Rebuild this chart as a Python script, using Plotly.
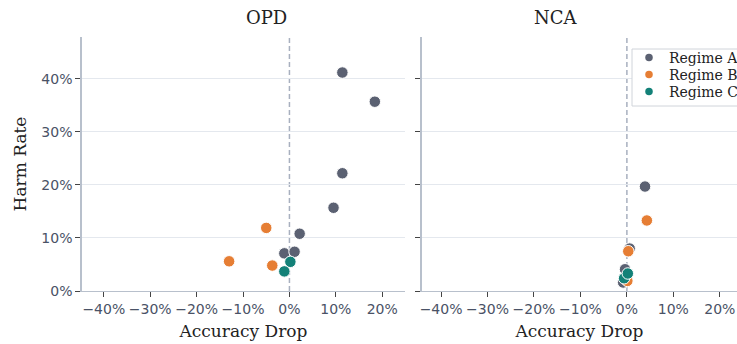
import plotly.graph_objects as go

# ---- data ----
regimes = ["Regime A", "Regime B", "Regime C"]
colors = ["#5b6172", "#e67e34", "#138178"]

opd_x = {
    "Regime A": [0.114, 0.184, 0.114, 0.095, 0.022, -0.011, 0.011],
    "Regime B": [-0.050, -0.130, -0.037],
    "Regime C": [0.002, -0.011],
}
opd_y = {
    "Regime A": [0.412, 0.357, 0.222, 0.157, 0.108, 0.071, 0.074],
    "Regime B": [0.119, 0.056, 0.048],
    "Regime C": [0.055, 0.037],
}
nca_x = {
    "Regime A": [0.039, 0.006, -0.004, -0.008],
    "Regime B": [0.043, 0.003, 0.001],
    "Regime C": [-0.006, 0.002],
}
nca_y = {
    "Regime A": [0.197, 0.080, 0.041, 0.016],
    "Regime B": [0.133, 0.075, 0.019],
    "Regime C": [0.024, 0.033],
}
y_ticks = [0, 0.1, 0.2, 0.3, 0.4]
y_tick_text = ["0%", "10%", "20%", "30%", "40%"]
x_ticks = [-0.4, -0.3, -0.2, -0.1, 0, 0.1, 0.2]
x_tick_text = ["\u221240%", "\u221230%", "\u221220%", "\u221210%", "0%", "10%", "20%"]

W, H = 737, 344
ml, mr, mt, mb = 82, 0, 37, 53
pw = W - ml - mr
ph = H - mt - mb


def px2x(p):
    return (p - ml) / pw


def px2y(p):
    return (H - mb - p) / ph


fig = go.Figure()
for name, col in zip(regimes, colors):
    fig.add_trace(go.Scatter(
        x=opd_x[name], y=opd_y[name], mode="markers", name=name,
        marker=dict(size=11.5, color=col, line=dict(color="white", width=1)),
        xaxis="x", yaxis="y", showlegend=False))
for name, col in zip(regimes, colors):
    fig.add_trace(go.Scatter(
        x=nca_x[name], y=nca_y[name], mode="markers", name=name,
        marker=dict(size=11.5, color=col, line=dict(color="white", width=1)),
        xaxis="x2", yaxis="y2", showlegend=False))
# legend entries (one legend per regime so row spacing can match)
legend_ids = ["legend", "legend2", "legend3"]
for name, col, lid in zip(regimes, colors, legend_ids):
    fig.add_trace(go.Scatter(
        x=[None], y=[None], mode="markers", name=name,
        marker=dict(size=7.5, color=col), xaxis="x2", yaxis="y2",
        showlegend=True, legend=lid))

d1 = [0, px2x(405)]
d2 = [px2x(422), 1]

tickfont = dict(family="DejaVu Sans", size=14, color="#4a5266")
titlefont = dict(family="DejaVu Serif", size=17, color="#222222")
axline = "#b8c0cc"
grid = "#e4e8ee"

xcommon = dict(tickvals=x_ticks, ticktext=x_tick_text, tickfont=tickfont,
               showgrid=False, zeroline=False, showline=True, linecolor=axline,
               linewidth=1, ticks="outside", ticklen=5, tickcolor="#444444",
               title=dict(text="Accuracy Drop", font=titlefont, standoff=9))
ycommon = dict(range=[0, 0.479], tickvals=y_ticks, showgrid=True, gridcolor=grid,
               zeroline=False, showline=True, linecolor=axline, linewidth=1.5,
               ticks="outside", ticklen=5, tickcolor="#444444", tickfont=tickfont)

legfont = dict(family="DejaVu Serif", size=14, color="#222222")
item_y = [58, 75, 92]
legends = {}
for lid, yy in zip(legend_ids, item_y):
    legends[lid] = dict(x=px2x(629), y=px2y(yy), xanchor="left", yanchor="middle",
                        bgcolor="rgba(0,0,0,0)", borderwidth=0, font=legfont,
                        itemsizing="trace")

fig.update_layout(
    width=W, height=H,
    margin=dict(l=ml, r=mr, t=mt, b=mb, autoexpand=False),
    paper_bgcolor="white", plot_bgcolor="white",
    xaxis=dict(domain=d1, range=[-0.447, 0.249], anchor="y", **xcommon),
    xaxis2=dict(domain=d2, range=[-0.441, 0.237], anchor="y2", **xcommon),
    yaxis=dict(anchor="x", ticktext=y_tick_text,
               title=dict(text="Harm Rate", font=titlefont, standoff=10), **ycommon),
    yaxis2=dict(anchor="x2", showticklabels=False, matches="y", **ycommon),
    **legends,
    shapes=[
        dict(type="line", xref="x", yref="y domain", x0=0, x1=0, y0=0, y1=1,
             line=dict(color="#a8b0bf", width=1.5, dash="5px,3px"), layer="below"),
        dict(type="line", xref="x2", yref="y2 domain", x0=0, x1=0, y0=0, y1=1,
             line=dict(color="#a8b0bf", width=1.5, dash="5px,3px"), layer="below"),
        # legend frame
        dict(type="rect", xref="paper", yref="paper",
             x0=px2x(632), x1=px2x(760), y0=px2y(106), y1=px2y(49),
             line=dict(color="#d0d4da", width=1), fillcolor="white", layer="above"),
    ],
    annotations=[
        dict(text="OPD", x=sum(d1) / 2, y=1, xref="paper", yref="paper",
             yanchor="bottom", yshift=7, showarrow=False,
             font=dict(family="DejaVu Serif", size=18, color="#222222")),
        dict(text="NCA", x=sum(d2) / 2, y=1, xref="paper", yref="paper",
             yanchor="bottom", yshift=7, showarrow=False,
             font=dict(family="DejaVu Serif", size=18, color="#222222")),
    ],
)

fig.write_html("out.html", config={"displayModeBar": False},
               post_script="document.body.style.margin='0';document.body.style.overflow='hidden';")
